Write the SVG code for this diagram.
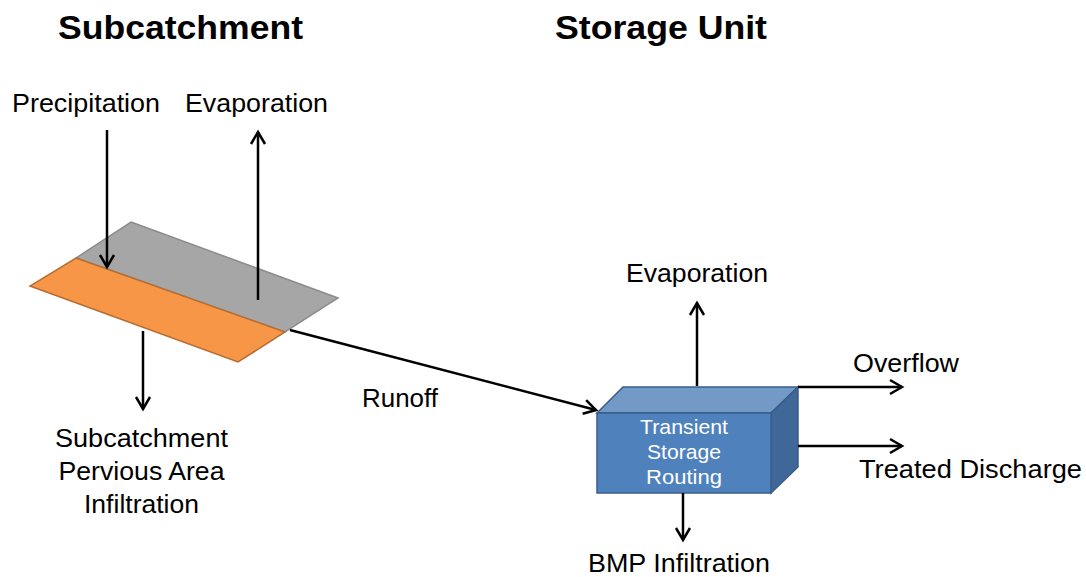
<svg xmlns="http://www.w3.org/2000/svg" width="1086" height="577" viewBox="0 0 1086 577">
<style>
text{font-family:"Liberation Sans",Arial,sans-serif;fill:#000;}
.t{font-size:33px;font-weight:bold;text-anchor:middle;}
.l{font-size:25px;text-anchor:middle;}
.b{font-size:21px;text-anchor:middle;fill:#fff;}
.c{stroke:#000;stroke-width:2.5;fill:none;marker-end:url(#ah);}
</style>
<defs>
<marker id="ah" markerUnits="userSpaceOnUse" markerWidth="20" markerHeight="20" refX="0" refY="0" viewBox="-14 -10 16 20" orient="auto" overflow="visible">
<path d="M-12,-7 L0,0 L-12,7" fill="none" stroke="#000" stroke-width="2.5"/>
</marker>
</defs>
<rect width="1086" height="577" fill="#fff"/>
<g id="titles">
<text class="t" x="180.5" y="39" textLength="245" lengthAdjust="spacingAndGlyphs">Subcatchment</text>
<text class="t" x="661" y="39" textLength="212" lengthAdjust="spacingAndGlyphs">Storage Unit</text>
</g>
<g id="subcatchment">
<polygon points="131,222 338,298 285,332 76,258" fill="#A6A6A6" stroke="#8C8C8C" stroke-width="1.5"/>
<polygon points="76,258 285,332 238,362 30,286" fill="#F79646" stroke="#B66D31" stroke-width="1.5"/>
</g>
<g id="storage-unit">
<polygon points="597,413 623,387 798,387 771,413" fill="#7399C6" stroke="#385D8A" stroke-width="1.5"/>
<polygon points="771,413 798,387 798,467 771,493" fill="#3F6797" stroke="#385D8A" stroke-width="1.5"/>
<rect x="597" y="413" width="174" height="80" fill="#4F81BD" stroke="#385D8A" stroke-width="1.5"/>
<text class="b" x="684" y="434" textLength="88" lengthAdjust="spacingAndGlyphs">Transient</text>
<text class="b" x="684" y="459" textLength="74" lengthAdjust="spacingAndGlyphs">Storage</text>
<text class="b" x="684" y="484" textLength="76" lengthAdjust="spacingAndGlyphs">Routing</text>
</g>
<g id="connectors">
<line class="c" x1="107" y1="130" x2="107" y2="267"/>
<line class="c" x1="258" y1="300" x2="258" y2="132"/>
<line class="c" x1="143" y1="331" x2="143" y2="409"/>
<line class="c" x1="290" y1="330" x2="596" y2="410"/>
<line class="c" x1="697" y1="386" x2="697" y2="303"/>
<line class="c" x1="798" y1="387" x2="902" y2="387"/>
<line class="c" x1="798" y1="446" x2="902" y2="446"/>
<line class="c" x1="683" y1="493" x2="683" y2="540"/>
</g>
<g id="labels">
<text class="l" x="86" y="112" textLength="148" lengthAdjust="spacingAndGlyphs">Precipitation</text>
<text class="l" x="256.5" y="112" textLength="143" lengthAdjust="spacingAndGlyphs">Evaporation</text>
<text class="l" x="141.5" y="447" textLength="173" lengthAdjust="spacingAndGlyphs">Subcatchment</text>
<text class="l" x="141.5" y="480" textLength="166" lengthAdjust="spacingAndGlyphs">Pervious Area</text>
<text class="l" x="141.5" y="513" textLength="115" lengthAdjust="spacingAndGlyphs">Infiltration</text>
<text class="l" x="400" y="407" textLength="76" lengthAdjust="spacingAndGlyphs">Runoff</text>
<text class="l" x="697" y="282" textLength="142" lengthAdjust="spacingAndGlyphs">Evaporation</text>
<text class="l" x="906" y="372" textLength="106" lengthAdjust="spacingAndGlyphs">Overflow</text>
<text class="l" x="970.5" y="478" textLength="223" lengthAdjust="spacingAndGlyphs">Treated Discharge</text>
<text class="l" x="679" y="572" textLength="182" lengthAdjust="spacingAndGlyphs">BMP Infiltration</text>
</g>
</svg>
